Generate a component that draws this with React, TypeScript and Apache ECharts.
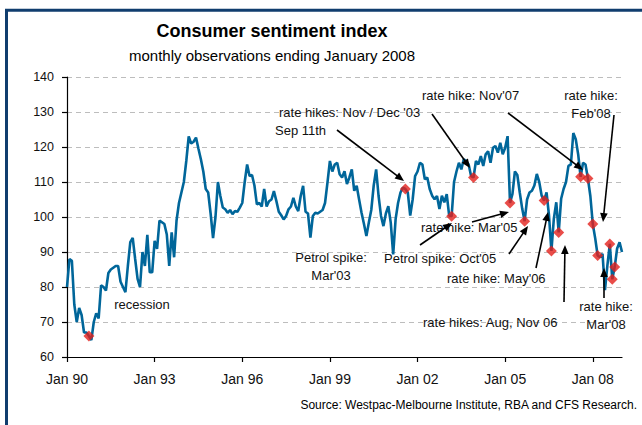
import React, { useEffect, useRef } from "react";
import * as echarts from "echarts";

const START_YEAR = 1990;
const MONTH_NAMES = ["Jan", "Feb", "Mar", "Apr", "May", "Jun", "Jul", "Aug", "Sep", "Oct", "Nov", "Dec"];
const LABEL_EVERY = 36;

// Monthly consumer sentiment index, Jan 1990 onwards
const sentiment = [
  80, 88, 87.5, 75, 70, 74, 72, 67, 67, 66, 64.8, 70,
  72.5, 71, 80.5, 80, 79, 84, 85, 85.5, 86, 86, 81.5, 80,
  78.5, 86, 92.8, 94, 88, 82.3, 80, 90, 86, 94.9, 84.2, 84.2,
  93.2, 90.9, 99, 98.5, 98, 95, 86, 95.6, 88.5, 99, 104, 107,
  110, 116, 123, 121, 121.5, 122.7, 119.5, 116.5, 113, 108, 107, 101,
  94, 100, 110, 106, 102.7, 102.2, 101.2, 102, 100.8, 101.7, 101.5, 102.7,
  104, 110, 115, 111.7, 112, 109, 103.6, 104, 103, 108, 103, 104.5,
  105, 107.4, 104.6, 101.5, 100.5, 99.3, 100.3, 102.2, 103, 105.5, 103, 101.7,
  106, 108.9, 101.5, 101, 94.1, 100.3, 101.2, 101, 101.5, 102, 104, 109.8,
  116, 113, 115, 115.5, 112.2, 111.3, 113.1, 109.4, 111.3, 113.6, 107.5, 108.9,
  105, 101.2, 98, 94.6, 98.4, 102, 109, 113.6, 106, 100.3, 97.4, 101,
  103.1, 98.4, 89.3, 99.4, 104, 107, 108.4, 108, 107, 100.4, 105, 111.7,
  113, 115.5, 115, 110.8, 111.3, 108, 106.1, 105.1, 106, 102.3, 106.1, 104.2,
  106.5, 100.4, 100.2, 110, 113, 115.5, 113.6, 116.5, 116, 115, 111.7, 111.3,
  116, 115, 117.4, 114.6, 117.9, 118.8, 115.5, 119.8, 120.3, 118.4, 121.2, 117.9,
  119.8, 123.1, 104, 106.6, 113, 112, 107, 102.4, 98.8, 105, 107, 107.5,
  109, 112.3, 110, 106.1, 104.7, 107, 100.5, 90.3, 99.5, 104.2, 95.6, 105.2,
  108, 110, 114.6, 115, 124, 122.2, 117.9, 111.5, 115.5, 115, 111, 106,
  98, 93.9, 89, 88.5, 89.5, 79.1, 86.2, 92.3, 82.2, 85.7, 91, 92.8,
  90,
];

// Months (index from Jan 1990) flagged with red diamonds
const eventMonths = [9, 139, 158, 167, 182, 188, 196, 199, 202, 211, 214, 216, 218, 223, 224, 225];

const Y_MIN = 60;
const Y_MAX = 140;
const Y_STEP = 10;

const monthLabels = sentiment.map(
  (_, i) =>
    `${MONTH_NAMES[i % 12]} ${String((START_YEAR + Math.floor(i / 12)) % 100).padStart(2, "0")}`
);

// Annotation texts (pixel placement)
const annotations: { text: string; x: number; y: number; align: string }[] = [
  { text: "recession", x: 142, y: 304, align: "center" },
  { text: "Sep 11th", x: 275, y: 130, align: "left" },
  { text: "rate hikes: Nov / Dec '03", x: 279, y: 112, align: "left" },
  { text: "rate hike: Nov'07", x: 422, y: 95, align: "left" },
  { text: "rate hike:", x: 591, y: 95, align: "center" },
  { text: "Feb'08", x: 591, y: 113, align: "center" },
  { text: "rate hike: Mar'05", x: 421, y: 227, align: "left" },
  { text: "Petrol spike:", x: 331, y: 257, align: "center" },
  { text: "Mar'03", x: 331, y: 275, align: "center" },
  { text: "Petrol spike: Oct'05", x: 384, y: 258, align: "left" },
  { text: "rate hike: May'06", x: 447, y: 278, align: "left" },
  { text: "rate hikes: Aug, Nov 06", x: 423, y: 322, align: "left" },
  { text: "rate hike:", x: 606, y: 306, align: "center" },
  { text: "Mar'08", x: 606, y: 324, align: "center" },
];

// Arrows: [fromX, fromY, toX, toY] with head at "to"
const arrows: number[][] = [
  [337, 130, 404, 181],
  [432, 114, 470, 168],
  [508, 113, 583, 170],
  [614, 115, 603, 222],
  [472, 222, 509, 212],
  [420, 245, 452, 223],
  [509, 254, 528, 226],
  [536, 268, 548, 212],
  [564, 302, 565, 245],
  [604, 298, 604, 268],
];

const FONT = '"Liberation Sans", Arial, sans-serif';

function arrowElements(a: number[]) {
  const [x1, y1, x2, y2] = a;
  const dx = x2 - x1;
  const dy = y2 - y1;
  const len = Math.sqrt(dx * dx + dy * dy);
  const ux = dx / len;
  const uy = dy / len;
  const L = 9;
  const W = 3.8;
  const bx = x2 - ux * L;
  const by = y2 - uy * L;
  const nx = -uy;
  const ny = ux;
  return [
    {
      type: "line",
      shape: { x1, y1, x2: bx + ux * 1, y2: by + uy * 1 },
      style: { stroke: "#000", lineWidth: 1.6 },
      z: 100,
    },
    {
      type: "polygon",
      shape: {
        points: [
          [x2, y2],
          [bx + nx * W, by + ny * W],
          [bx - nx * W, by - ny * W],
        ],
      },
      style: { fill: "#000" },
      z: 100,
    },
  ];
}

export default function App() {
  const ref = useRef<HTMLDivElement>(null);

  useEffect(() => {
    document.body.style.margin = "0";
    if (!ref.current) return;
    const chart = echarts.init(ref.current, null, { renderer: "svg" });

    const graphics: any[] = [
      {
        type: "line",
        shape: { x1: 5, y1: 10.3, x2: 642, y2: 10.3 },
        style: { stroke: "#103d6e", lineWidth: 3 },
      },
      {
        type: "line",
        shape: { x1: 6.5, y1: 9, x2: 6.5, y2: 425 },
        style: { stroke: "#103d6e", lineWidth: 3 },
      },
      {
        type: "text",
        x: 272,
        y: 31,
        style: {
          text: "Consumer sentiment index",
          fill: "#000",
          font: `bold 18px ${FONT}`,
          align: "center",
          verticalAlign: "middle",
        },
      },
      {
        type: "text",
        x: 272,
        y: 55,
        style: {
          text: "monthly observations ending January 2008",
          fill: "#000",
          font: `15px ${FONT}`,
          align: "center",
          verticalAlign: "middle",
        },
      },
      {
        type: "text",
        x: 637,
        y: 405,
        style: {
          text: "Source: Westpac-Melbourne Institute, RBA and CFS Research.",
          fill: "#000",
          font: `12px ${FONT}`,
          align: "right",
          verticalAlign: "middle",
        },
      },
      ...annotations.map((a) => ({
        type: "text",
        x: a.x,
        y: a.y,
        z: 90,
        style: {
          text: a.text,
          fill: "#111",
          font: `13px ${FONT}`,
          align: a.align,
          verticalAlign: "middle",
        },
      })),
      ...arrows.flatMap((a) => arrowElements(a)),
    ];

    chart.setOption({
      animation: false,
      backgroundColor: "#fff",
      grid: { left: 67, right: 20, top: 77, bottom: 68, containLabel: false },
      xAxis: {
        type: "category",
        data: monthLabels,
        boundaryGap: false,
        axisLine: { lineStyle: { color: "#000", width: 1.2 } },
        axisTick: {
          interval: (i: number) => i % LABEL_EVERY === 0,
          length: 5,
          lineStyle: { color: "#000", width: 1.2 },
        },
        axisLabel: {
          interval: (i: number) => i % LABEL_EVERY === 0,
          fontSize: 14,
          fontFamily: FONT,
          color: "#111",
          margin: 15,
        },
        splitLine: { show: false },
      },
      yAxis: {
        type: "value",
        min: Y_MIN,
        max: Y_MAX,
        interval: Y_STEP,
        axisLine: { show: true, lineStyle: { color: "#000", width: 1.2 } },
        axisTick: { show: true, length: 5, lineStyle: { color: "#000", width: 1.2 } },
        axisLabel: { fontSize: 12.5, fontFamily: FONT, color: "#111", margin: 13 },
        splitLine: { show: true, lineStyle: { type: [5, 4], color: "#bdbdbd", width: 1 } },
      },
      series: [
        {
          type: "line",
          data: sentiment,
          showSymbol: false,
          symbol: "none",
          lineStyle: { color: "#00669a", width: 2.6 },
          z: 2,
        },
        {
          type: "scatter",
          data: eventMonths.map((m) => [m, sentiment[m]]),
          symbol: "diamond",
          symbolSize: [11, 11],
          itemStyle: { color: "#e3201b" },
          z: 3,
        },
      ],
      graphic: graphics,
    });

    return () => chart.dispose();
  }, []);

  return <div ref={ref} style={{ width: 642, height: 425 }} />;
}
